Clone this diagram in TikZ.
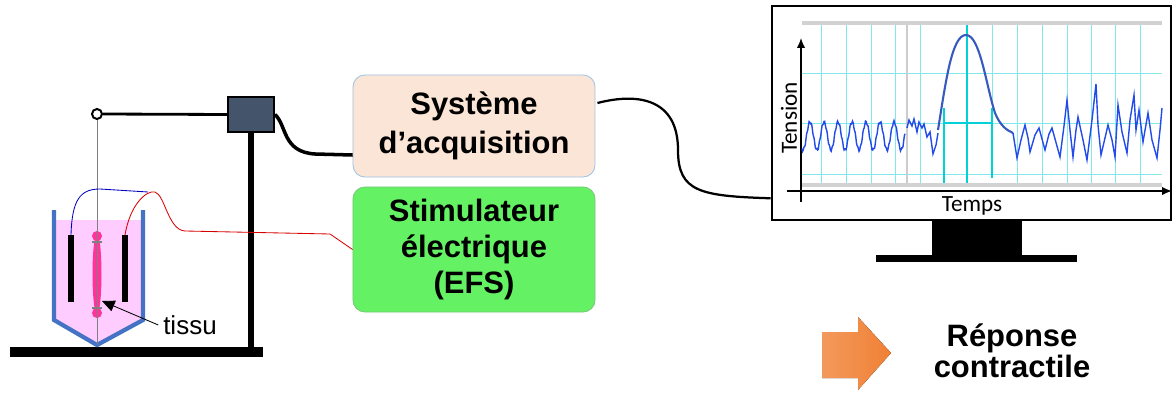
\documentclass[tikz,border=0pt]{standalone}
\usepackage{fontspec}
\setmainfont{Liberation Sans}
\newfontfamily\calibri{Carlito}
\usetikzlibrary{calc,arrows.meta}

\definecolor{peche}{RGB}{251,229,214}
\definecolor{bordpeche}{RGB}{157,195,230}
\definecolor{vertstim}{RGB}{100,242,100}
\definecolor{bordvert}{RGB}{120,200,120}
\definecolor{ardoise}{RGB}{68,84,106}
\definecolor{bleucuve}{RGB}{68,114,196}
\definecolor{rosebain}{RGB}{255,204,255}
\definecolor{rosetissu}{RGB}{255,51,153}
\definecolor{grille}{RGB}{130,232,236}
\definecolor{grillefonce}{RGB}{0,210,215}
\definecolor{signal}{RGB}{35,75,235}
\definecolor{pic}{RGB}{55,90,190}
\definecolor{orangefl}{RGB}{240,128,52}

\tikzset{
  boite/.style={draw, rounded corners=0.3cm, minimum width=6.05cm, align=center, line width=0.6pt},
  cable/.style={line width=2.5pt, black},
  electrode/.style={fill=black},
}

\begin{document}
\begin{tikzpicture}[x=0.025cm, y=-0.025cm]
\useasboundingbox (0,0) rectangle (1173,394);

% support et capteur
\node[fill=black, minimum width=6.325cm, minimum height=0.25cm, inner sep=0] (socle) at (136.5,352) {};
\node[draw=black, fill=ardoise, line width=1.2pt, minimum width=1.15cm, minimum height=0.875cm, inner sep=0] (capteur) at (251,114.5) {};
\draw[line width=4.5pt] (capteur.south) -- (capteur.south |- socle.north);

% cuve
\fill[rosebain] (56,220) -- (141,220) -- (141,320) -- (97,343) -- (56,320) -- cycle;
\draw[bleucuve, line width=3pt] (54,210) -- (54,320) -- (97,345) -- (143,320) -- (143,210);
\fill[electrode] (68,235) rectangle (74,302);
\fill[electrode] (122,235) rectangle (128,302);

% tissu
\fill[rosetissu] (97,274) ellipse [x radius=4.5, y radius=40];
\fill[rosetissu] (97,236) circle [radius=5];
\fill[rosetissu] (97,313) circle [radius=5];
\draw[gray, line width=1.2pt] (92,242) -- (102,242) (92,308) -- (102,308);

% fil de suspension
\node[draw, circle, fill=white, line width=1.4pt, minimum size=0.25cm, inner sep=0] (poulie) at (97,114) {};
\draw[gray, line width=0.6pt] (poulie.south) -- (97,345);
\draw[line width=2pt] (poulie.east) -- (capteur.west);

% boites
\node[boite, fill=peche, draw=bordpeche, minimum height=2.55cm, font=\fontsize{22}{28}\selectfont\bfseries] (acq) at (474,126) {Système\\d’acquisition};
\node[boite, fill=vertstim, draw=bordvert, minimum height=3.125cm, font=\fontsize{22}{25.5}\selectfont\bfseries] (stim) at (474,249.5) {Stimulateur\\électrique\\(EFS)};

% electrodes
\draw[blue!75!black, line width=0.6pt] (71,235) .. controls (72,200) and (80,189) .. (100,189) -- (148,192);
\draw[red!85!black, line width=0.6pt] (125,235) .. controls (130,205) and (146,190) .. (155,192) .. controls (165,195) and (168,230) .. (185,231) -- (330,234) -- (stim.west);

% label tissu
\node[font=\fontsize{18.5}{20}\selectfont] (tissu) at (190,325) {tissu};
\draw[-{Triangle[length=9pt, width=8pt]}, line width=0.6pt] (tissu.west) -- (102,301);

% ecran
\node[draw, line width=1.8pt, minimum width=9.975cm, minimum height=5.35cm, inner sep=0] (ecran) at (971.5,113) {};
\fill (932,220) rectangle (1022,255);
\fill (876,255) rectangle (1077,262);

% cables
\draw[cable] (capteur.east) .. controls (287,125) and (282,152) .. (315,154) -- ($(acq.west)+(0,29)$);
\draw[line width=1.6pt] ($(acq.east)+(2,-23)$) .. controls (640,92) and (678,100) .. (678,150) .. controls (678,192) and (700,196) .. ($(ecran.south west)+(0,-23)$);

% grille
\foreach \gx in {821,846,871,895,920,1017,1042,1067,1091,1115,1140}
  \draw[grille, line width=0.7pt] (\gx,23) -- (\gx,185);
\foreach \gy in {73,123,174}
  \draw[grille, line width=0.7pt] (802,\gy) -- (1162,\gy);
\draw[gray!40, line width=0.8pt] (907,23) -- (907,185);
\draw[grille, line width=0.7pt] (992,23) -- (992,108);
\draw[grillefonce, line width=0.9pt] (944,108) -- (944,185) (967,23) -- (967,185) (992,108) -- (992,178) (944,123) -- (992,123);
\draw[gray!35, line width=2.2pt] (802,23) -- (1162,23) (802,185) -- (1162,185);

% axes
\draw[line width=1.1pt, -{Latex[length=7pt, width=6pt]}] (801,202) -- (801,38);
\draw[line width=1.1pt, -{Latex[length=7pt, width=6pt]}] (787,191) -- (1172,191);
\node[font=\calibri\fontsize{16.5}{18}\selectfont, rotate=90] (tension) at (789,118) {Tension};
\node[font=\calibri\fontsize{16.5}{18}\selectfont] (temps) at (972,206) {Temps};

% signal
\draw[signal, line width=1pt] plot[domain=802:905, samples=160]
  (\x, {136 - 14*sin(25.7*(\x-806.5)) + 1.5*sin(140*(\x-802))});
\draw[signal, line width=1pt] (907,128) -- (909,120) -- (912,126) -- (914,119) -- (917,132) -- (919,122) -- (922,128)
  -- (924,124) -- (927,137) -- (930,132) -- (933,154) -- (936,145) -- (938,133);
\draw[pic, line width=1.5pt] (938,130) .. controls (946,80) and (952,35) .. (966,35)
  .. controls (980,35) and (986,85) .. (995,113) .. controls (1000,125) and (1006,130) .. (1013,133);
\draw[signal, line width=1pt] (1013,133) -- (1017,158) -- (1021,140) -- (1025,125) -- (1028,138) -- (1030,152)
  -- (1035,135) -- (1039,128) -- (1045,150) -- (1049,134) -- (1052,128) -- (1060,157) -- (1064,126)
  -- (1067,100) -- (1070,130) -- (1073,157) -- (1076,130) -- (1078,117) -- (1083,140) -- (1087,160)
  -- (1092,120) -- (1096,84) -- (1098,125) -- (1101,155) -- (1105,138) -- (1108,125) -- (1112,140)
  -- (1115,157) -- (1118,105) -- (1122,132) -- (1127,153) -- (1130,120) -- (1134,95) -- (1136,130)
  -- (1139,110) -- (1143,142) -- (1148,113) -- (1152,140) -- (1157,158) -- (1160,130) -- (1162,108);

% reponse
\fill[left color=orangefl!80!white, right color=orangefl] (822,332) -- (858,332) -- (858,317) -- (891,353)
  -- (858,390) -- (858,378) -- (822,378) -- cycle;
\node[align=center, font=\fontsize{22}{22}\selectfont\bfseries] (reponse) at (1012,351) {Réponse\\contractile};
\end{tikzpicture}
\end{document}
